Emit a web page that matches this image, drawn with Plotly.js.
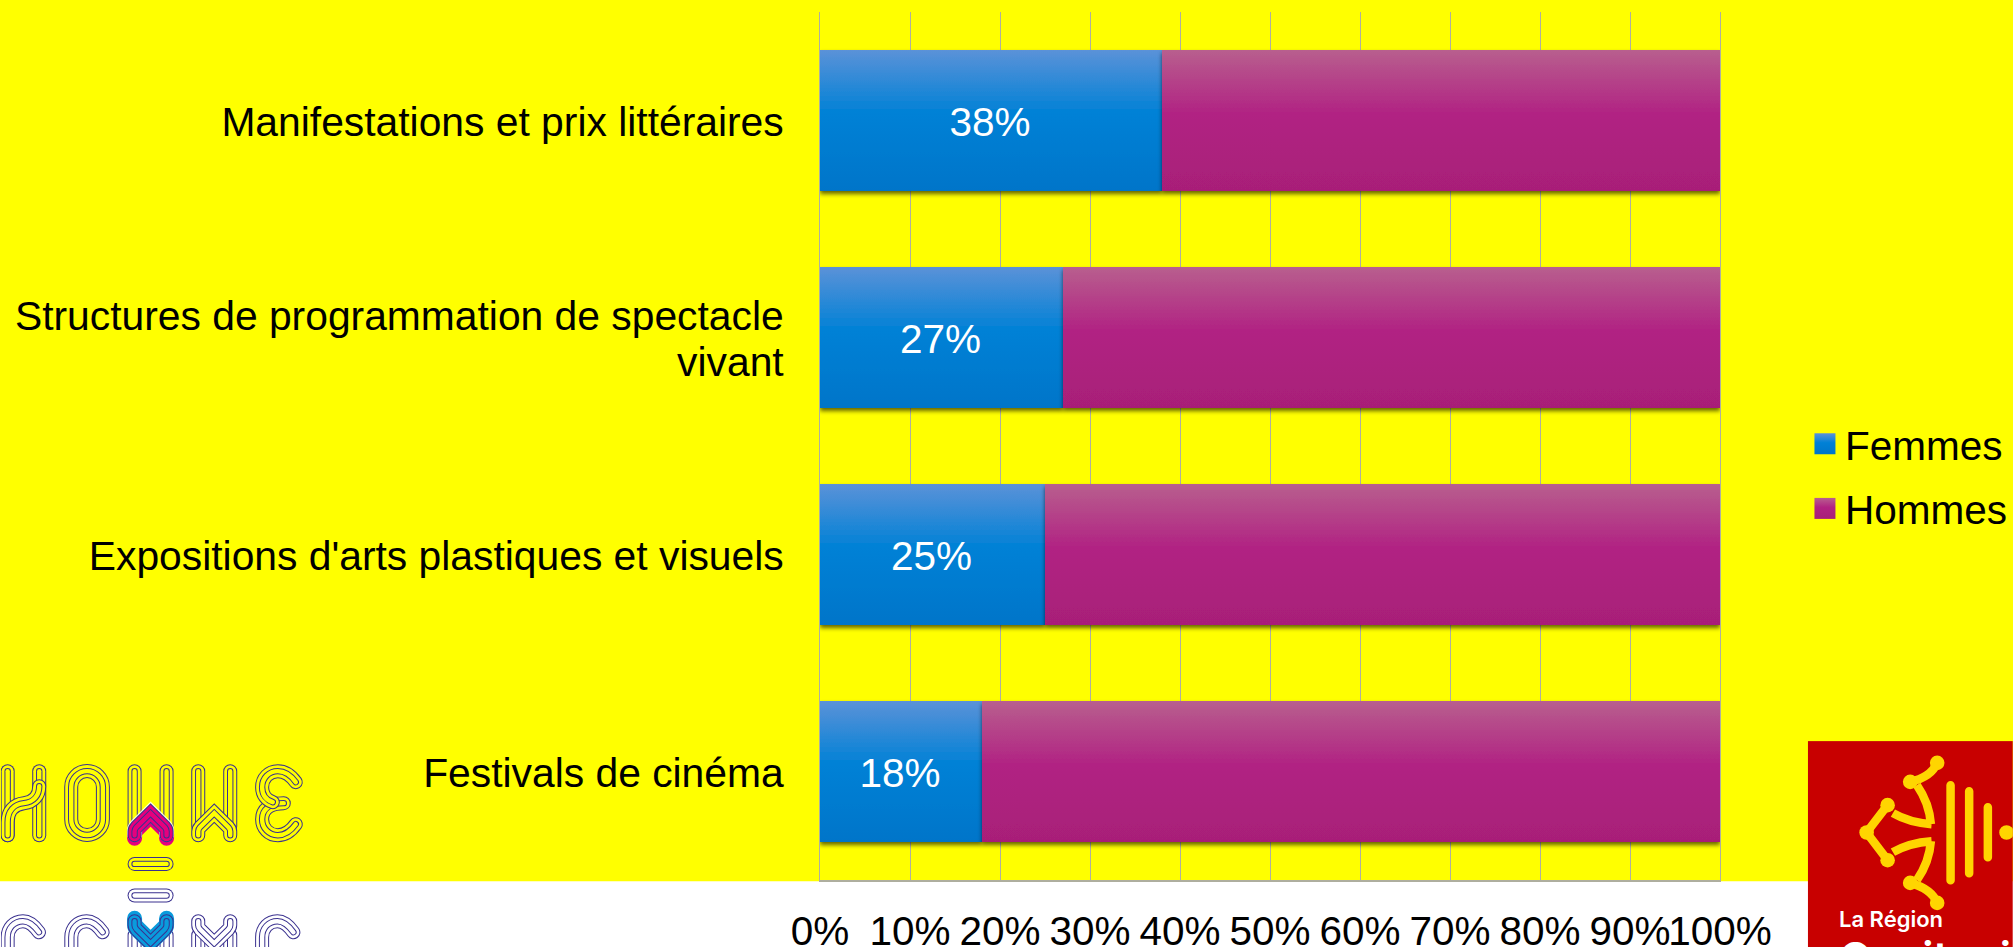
<!DOCTYPE html>
<html lang="fr"><head><meta charset="utf-8">
<script src="https://cdn.plot.ly/plotly-3.0.1.min.js"></script>
<style>html,body{margin:0;padding:0;background:#ff0;overflow:hidden}#chart{width:2013px;height:947px}</style>
</head><body><div id="chart"></div>
<script>
const categories = ["Manifestations et prix littéraires","Structures de programmation de spectacle<br>vivant","Expositions d'arts plastiques et visuels","Festivals de cinéma"];
const femmes = [0.38,0.27,0.25,0.18];
const hommes = [0.62,0.73,0.75,0.82];
const femmesLabels = ["38%","27%","25%","18%"];
const xTicks = [0,0.1,0.2,0.3,0.4,0.5,0.6,0.7,0.8,0.9,1];
const xTickLabels = ["0%","10%","20%","30%","40%","50%","60%","70%","80%","90%","100%"];

const W=2013,H=947,L=819.5,R=W-1720,T=12.3,B=H-879.8;
const pw=W-L-R, ph=H-T-B;
const px=x=>(x-L)/pw, py=y=>1-(y-T)/ph;
const FONT='"Liberation Sans",Arial,sans-serif';
const FS=40.5, GRID='#aeae9e';

// ---- decorative logos
const NAVY='#3a318f';
function band(d,bg,tr){
  const t=tr?` transform="translate(${tr})"`:'';
  return [[14,NAVY],[12,bg],[6.4,NAVY],[4.4,bg]].map(([w,c])=>`<path${t} d="${d}" fill="none" stroke="${c}" stroke-width="${w}" stroke-linecap="round" stroke-linejoin="miter"/>`).join('');
}
const Y='#ffff00',WH='#ffffff';
const arrow="M133.7 835 V831 Q133.7 829 135.5 827 L149.7 813 L163.9 827 Q165.7 829 165.7 831 V835";
const vee="M133.7 921 V925 Q133.7 927 135.5 929 L149.7 943 L163.9 929 Q165.7 927 165.7 925 V921";
const cShape="M38 932 C33 925 28 921 22 921 C13 921 6.7 928 6.7 937 V965";
const stems="M133.7 771 V826 M165.7 771 V826";
const stemsLow="M133.7 935 V965 M165.7 935 V965";
let logo='';
logo+=band("M6.7 771 V835",Y)+band("M38.3 771 V835",Y);
logo+=band("M6.7 835 V822 C6.7 811 13 804 23 803 C33 802 38.3 795 38.3 786",Y);
logo+=band("M70.3 786.8 A15.8 15.8 0 0 1 102 786.8 V819 A15.8 15.8 0 0 1 70.3 819 Z",Y);
logo+=band(stems,Y);
logo+=`<path d="${arrow}" transform="translate(0,3)" fill="none" stroke="#e5007d" stroke-width="15" stroke-linecap="round"/>`;
logo+=`<path d="${arrow}" transform="translate(0,-1)" fill="none" stroke="#ffffff" stroke-width="15" stroke-linecap="round" opacity="0.85"/>`;
logo+=band(arrow,'#e5007d');
logo+=band(stems,Y,'63.7,0')+band(arrow,Y,'63.7,0');
logo+=band("M283 803 C268 803 261.3 810 261.3 819 C261.3 828 268 835 277 835 C284 835 290 831 295 824",Y);
logo+=band("M295 782 C290 775 284 771 277 771 C268 771 261.3 778 261.3 787 C261.3 795 266 800 272 802",Y);
logo+=band("M133.7 863.7 H165.7",Y);
logo+=band("M133.7 895.3 H165.7",WH);
logo+=band(cShape,WH)+band(cShape,WH,'63.7,0');
logo+=band(stemsLow,WH);
logo+=`<path d="${vee}" transform="translate(0,-3)" fill="none" stroke="#0a9bdc" stroke-width="15" stroke-linecap="round"/>`;
logo+=`<path d="${vee}" fill="none" stroke="#0a9bdc" stroke-width="15" stroke-linecap="round"/>`;
logo+=band(vee,'#0a9bdc');
logo+=band(stemsLow,WH,'63.7,0')+band(vee,WH,'63.7,0');
logo+=band(cShape,WH,'254.6,0');
// Occitanie cross
const G='#ffd500';
const line=d=>`<path d="${d}" fill="none" stroke="${G}" stroke-width="8.5" stroke-linecap="round"/>`;
const dot=(x,y,r=7.3)=>`<circle cx="${x}" cy="${y}" r="${r}" fill="${G}"/>`;
let occ=`<rect x="1808" y="741" width="205" height="206" fill="#c80000"/>`;
occ+=line("M1937.3 762.7 C1933 773 1922 779 1910.3 781.7");
occ+=line("M1937.3 902.7 C1933 892 1922 886 1910.3 882.7");
occ+=`<path d="M1917 785 C1926 798 1930 810 1931 824 M1917 880 C1926 867 1930 855 1931 841 M1893 813 C1905 820 1918 823 1931.7 824 M1893 852 C1905 845 1918 842 1931.7 841" fill="none" stroke="${G}" stroke-width="8.5" stroke-linecap="butt"/>`;
occ+=line("M1887.7 805 L1866.7 832.3 L1887.7 860");
occ+=dot(1937.3,762.7)+dot(1910.3,781.7)+dot(1887.7,805)+dot(1866.7,832.3)+dot(1887.7,860)+dot(1910.3,882.7)+dot(1937.3,902.7)+dot(2006.7,832.3);
occ+=`<path d="M1950.7 785 V880 M1969.3 791 V873 M1988 807 V857" fill="none" stroke="${G}" stroke-width="8.5" stroke-linecap="round"/>`;
const svg=`<svg xmlns="http://www.w3.org/2000/svg" width="${W}" height="${H}" viewBox="0 0 ${W} ${H}">${logo}${occ}</svg>`;

const traces=[
 {type:'bar',orientation:'h',name:'Femmes',legendgroup:'f',y:categories,x:femmes,text:femmesLabels,textposition:'inside',insidetextanchor:'middle',constraintext:'none',
  textfont:{color:'#fff',size:FS,family:FONT},marker:{color:'#0080d5',line:{width:0}},hoverinfo:'x+y+name'},
 {type:'bar',orientation:'h',name:'Hommes',legendgroup:'h',y:categories,x:hommes,marker:{color:'#b02282',line:{width:0}},hoverinfo:'x+y+name'}
];
const layout={
 width:W,height:H,margin:{l:L,r:R,t:T,b:B,pad:0,autoexpand:false},
 paper_bgcolor:'#ffff00',plot_bgcolor:'rgba(0,0,0,0)',
 font:{family:FONT,color:'#000'},
 barmode:'stack',bargap:0.35,showlegend:true,
 legend:{x:px(1805),y:py(411),xanchor:'left',yanchor:'top',bgcolor:'rgba(0,0,0,0)',font:{size:FS,color:'#000',family:FONT},
  traceorder:'grouped',tracegroupgap:9,itemwidth:30,itemclick:false,itemdoubleclick:false},
 xaxis:{range:[0,1],tickmode:'array',tickvals:xTicks,ticktext:xTickLabels,tickangle:0,showgrid:true,gridcolor:GRID,gridwidth:1.3,
  showline:true,linecolor:GRID,linewidth:1.5,zeroline:false,ticks:'',ticklabelstandoff:15,tickfont:{size:FS,color:'#000',family:FONT},fixedrange:true,layer:'below traces'},
 yaxis:{range:[3.5,-0.5],type:'category',categoryorder:'array',categoryarray:categories,showgrid:false,showline:true,mirror:true,linecolor:GRID,linewidth:1.3,zeroline:false,ticks:'',
  ticklabelstandoff:27,tickfont:{size:40.8,color:'#000',family:FONT},fixedrange:true,layer:'below traces'},
 shapes:[{type:'rect',xref:'paper',yref:'paper',layer:'below',x0:px(-5),x1:px(W+5),y0:py(H+5),y1:py(881),fillcolor:'#ffffff',line:{width:0}}],
 images:[{source:'data:image/svg+xml;utf8,'+encodeURIComponent(svg),xref:'paper',yref:'paper',x:px(0),y:py(0),sizex:W/pw,sizey:H/ph,xanchor:'left',yanchor:'top',sizing:'stretch',layer:'above'}],
 annotations:[
  {text:'La Région',xref:'paper',yref:'paper',x:px(1838.5),y:py(933),xanchor:'left',yanchor:'bottom',showarrow:false,borderpad:0,font:{family:'Inter,"Open Sans",sans-serif',size:22,color:'#fff',weight:600}},
  {text:'Occitanie',xref:'paper',yref:'paper',x:px(1838),y:py(984),xanchor:'left',yanchor:'bottom',showarrow:false,borderpad:0,font:{family:'Inter,"Open Sans",sans-serif',size:43,color:'#fff',weight:600}}
 ]
};
Plotly.newPlot('chart',traces,layout,{displayModeBar:false,responsive:false}).then(gd=>{
 const root=gd.querySelector('.main-svg');
 const NS='http://www.w3.org/2000/svg';
 const defs=document.createElementNS(NS,'defs');
 const grad=(id,stops)=>`<linearGradient id="${id}" x1="0" y1="0" x2="0" y2="1">${stops.map(([o,c])=>`<stop offset="${o}" stop-color="${c}"/>`).join('')}</linearGradient>`;
 defs.innerHTML=grad('gF',[[0,'#5b92d8'],[0.45,'#0081d6'],[1,'#0075c9']])+grad('gH',[[0,'#b85f8e'],[0.45,'#b12383'],[1,'#a81f78']])+
  '<filter id="sh" x="-5%" y="-10%" width="110%" height="130%"><feDropShadow dx="0" dy="3" stdDeviation="2.2" flood-color="#000" flood-opacity="0.6"/></filter>';
 root.insertBefore(defs,root.firstChild);
 gd.querySelectorAll('.barlayer .trace').forEach((t,i)=>{
  t.querySelectorAll('.point path').forEach(p=>{p.style.fill=`url(#${i?'gH':'gF'})`;p.setAttribute('filter','url(#sh)');});
  t.querySelectorAll('.point text').forEach(x=>{x.setAttribute('transform','translate(-1,1) '+(x.getAttribute('transform')||''));});
 });
 gd.querySelectorAll('.legend .traces').forEach((t,i)=>{
  t.querySelectorAll('.legendpoints path').forEach(q=>{q.style.fill=`url(#${i?'gH':'gF'})`;q.style.stroke='none';q.setAttribute('transform',(q.getAttribute('transform')||'')+' scale(1.75)');});
 });
 gd.querySelectorAll('.ytick text').forEach(x=>{
  const lines=x.querySelectorAll('tspan.line');
  let dy=1.5;
  if(lines.length>1){ dy=5; lines.forEach((s,k)=>{ if(k>0) s.setAttribute('dy','1.13em'); }); }
  x.setAttribute('transform','translate(0,'+dy+') '+(x.getAttribute('transform')||''));
 });
});
</script></body></html>
